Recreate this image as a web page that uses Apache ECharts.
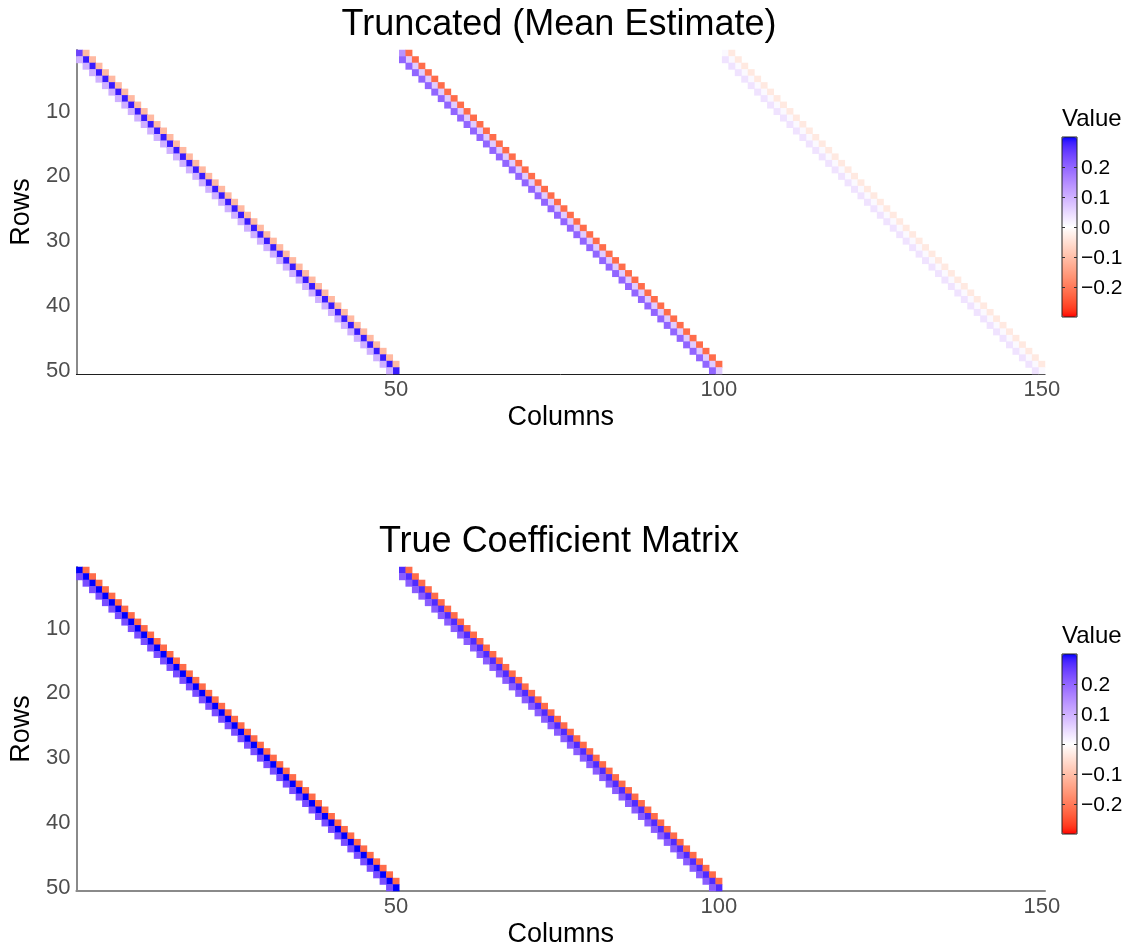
<!DOCTYPE html>
<html>
<head>
<meta charset="utf-8">
<script src="https://cdn.jsdelivr.net/npm/echarts@6/dist/echarts.min.js"></script>
<style>
  html, body { margin: 0; padding: 0; background: #ffffff; }
  #chart { width: 1131px; height: 951px; }
</style>
</head>
<body>
<div id="chart"></div>
<script>
// ---- matrix dimensions and tick labels ----
const nRows = 50;
const nCols = 150;
const rowCats = Array.from({ length: nRows }, (_, i) => String(i + 1));
const colCats = Array.from({ length: nCols }, (_, i) => String(i + 1));
const xTicks = [50, 100, 150];
const yTicks = [10, 20, 30, 40, 50];
const legendTicks = [0.2, 0.1, 0.0, -0.1, -0.2];
const legendTickText = ['0.2', '0.1', '0.0', '\u22120.1', '\u22120.2'];
const valueMin = -0.3;
const valueMax = 0.3;

// ---- band values for each 50-column block (lag 1, lag 2, lag 3) ----
// first column of each block (zero-based)
const blockStart = [0, 50, 100];
// mean estimate: sub-diagonal, diagonal, super-diagonal of each block
const estSub  = [0.10, 0.20, 0.035];
const estDiag = [0.285, 0.065, 0.008];
const estSup  = [-0.11, -0.22, -0.035];
// estimate in row 1 on the block diagonal
const estFirstDiag = [0.245, 0.14, 0.008];
// true coefficients
const trueSub  = [0.23, 0.21, 0];
const trueDiag = [0.30, 0.27, 0];
const trueSup  = [-0.22, -0.22, 0];
const trueFirstDiag = [0.30, 0.27, 0];

// build [col, row, value] triples along the three bands of every block
function bandCells(sub, diag, sup, firstDiag) {
  const cells = [];
  for (let b = 0; b < blockStart.length; b++) {
    for (let r = 0; r < nRows; r++) {
      const c = blockStart[b] + r;
      const d = r === 0 ? firstDiag[b] : diag[b];
      if (d !== 0) cells.push([c, r, d]);
      if (r > 0 && sub[b] !== 0) cells.push([c - 1, r, sub[b]]);
      if (r < nRows - 1 && sup[b] !== 0) cells.push([c + 1, r, sup[b]]);
    }
  }
  return cells;
}
const estCells = bandCells(estSub, estDiag, estSup, estFirstDiag);
const trueCells = bandCells(trueSub, trueDiag, trueSup, trueFirstDiag);

// ---- diverging palette red - white - blue, interpolated in CIE Lab ----
const WHITE = [0.95047, 1.0, 1.08883];
function toLin(c) { c /= 255; return c <= 0.04045 ? c / 12.92 : Math.pow((c + 0.055) / 1.055, 2.4); }
function toSrgb(c) { c = Math.min(1, Math.max(0, c)); return Math.round(255 * (c <= 0.0031308 ? 12.92 * c : 1.055 * Math.pow(c, 1 / 2.4) - 0.055)); }
function hexToLab(hex) {
  const r = toLin(parseInt(hex.slice(1, 3), 16));
  const g = toLin(parseInt(hex.slice(3, 5), 16));
  const b = toLin(parseInt(hex.slice(5, 7), 16));
  const X = (0.4124 * r + 0.3576 * g + 0.1805 * b) / WHITE[0];
  const Y = (0.2126 * r + 0.7152 * g + 0.0722 * b) / WHITE[1];
  const Z = (0.0193 * r + 0.1192 * g + 0.9505 * b) / WHITE[2];
  const f = t => t > 0.008856 ? Math.cbrt(t) : 7.787 * t + 16 / 116;
  const fx = f(X), fy = f(Y), fz = f(Z);
  return [116 * fy - 16, 500 * (fx - fy), 200 * (fy - fz)];
}
function labToHex(L, a, bb) {
  const fy = (L + 16) / 116, fx = fy + a / 500, fz = fy - bb / 200;
  const inv = t => { const t3 = t * t * t; return t3 > 0.008856 ? t3 : (t - 16 / 116) / 7.787; };
  const X = WHITE[0] * inv(fx), Y = WHITE[1] * inv(fy), Z = WHITE[2] * inv(fz);
  const r = 3.2406 * X - 1.5372 * Y - 0.4986 * Z;
  const g = -0.9689 * X + 1.8758 * Y + 0.0415 * Z;
  const b = 0.0557 * X - 0.2040 * Y + 1.0570 * Z;
  return '#' + [r, g, b].map(v => toSrgb(v).toString(16).padStart(2, '0')).join('');
}
function divergingRamp(low, mid, high, n) {
  const lo = hexToLab(low), mi = hexToLab(mid), hi = hexToLab(high);
  const out = [];
  for (let i = 0; i < n; i++) {
    const s = i / (n - 1) * 2 - 1;
    const end = s < 0 ? lo : hi;
    const t = Math.abs(s);
    out.push(labToHex(mi[0] + (end[0] - mi[0]) * t, mi[1] + (end[1] - mi[1]) * t, mi[2] + (end[2] - mi[2]) * t));
  }
  return out;
}
const palette = divergingRamp('#ff0000', '#ffffff', '#0000ff', 41);

// ---- layout ----
const FONT = 'Liberation Sans, Arial, Helvetica, sans-serif';
const plotLeft = 73, plotWidth = 972, plotHeight = 324;
const panelTop = [50, 567];
const titles = ['Truncated (Mean Estimate)', 'True Coefficient Matrix'];
const xLineColor = ['#1f1f1f', '#8a8a8a'];
const legendLeft = 1062, legendWidth = 15, legendHeight = 180;
const legendTop = [137, 654];

function legendY(p, v) {
  return legendTop[p] + (valueMax - v) / (valueMax - valueMin) * legendHeight;
}

const grids = [], xAxes = [], yAxes = [], series = [], visualMaps = [], graphics = [], titleCmp = [];
for (let p = 0; p < 2; p++) {
  grids.push({ left: plotLeft, top: panelTop[p], width: plotWidth, height: plotHeight, containLabel: false });
  xAxes.push({
    type: 'category', gridIndex: p, data: colCats, boundaryGap: true,
    axisLine: { show: true, lineStyle: { color: xLineColor[p], width: p === 0 ? 1 : 2 } },
    axisTick: { show: false },
    splitLine: { show: false },
    axisLabel: {
      interval: (idx, val) => xTicks.includes(Number(val)),
      color: '#4d4d4d', fontSize: 22, fontFamily: FONT, margin: 5
    },
    name: 'Columns', nameLocation: 'middle', nameGap: 30,
    nameTextStyle: { color: '#000', fontSize: 27, fontFamily: FONT, verticalAlign: 'top' }
  });
  yAxes.push({
    type: 'category', gridIndex: p, data: rowCats, inverse: true, boundaryGap: true,
    axisLine: { show: true, lineStyle: { color: '#8a8a8a', width: 2 } },
    axisTick: { show: false },
    splitLine: { show: false },
    axisLabel: {
      interval: (idx, val) => yTicks.includes(Number(val)),
      color: '#4d4d4d', fontSize: 22, fontFamily: FONT, margin: 6
    },
    name: 'Rows', nameLocation: 'middle', nameGap: 38, nameRotate: 90,
    nameTextStyle: { color: '#000', fontSize: 27, fontFamily: FONT }
  });
  series.push({
    type: 'heatmap', xAxisIndex: p, yAxisIndex: p,
    data: p === 0 ? estCells : trueCells,
    itemStyle: { borderWidth: 0 },
    emphasis: { disabled: true },
    progressive: 0
  });
  visualMaps.push({
    type: 'continuous', seriesIndex: p, dimension: 2,
    min: valueMin, max: valueMax,
    inRange: { color: palette },
    calculable: false, realtime: false, hoverLink: false,
    orient: 'vertical', left: legendLeft, top: legendTop[p],
    itemWidth: legendWidth, itemHeight: legendHeight,
    padding: 0, text: null, showLabel: false
  });
  titleCmp.push({
    text: titles[p], left: plotLeft + plotWidth / 2, top: panelTop[p] - 43, textAlign: 'center',
    padding: 0,
    textStyle: { fontSize: 36, fontWeight: 'normal', color: '#000', fontFamily: FONT }
  });
  // legend title, frame, ticks and labels
  graphics.push({
    type: 'text', left: legendLeft, top: legendTop[p] - 30,
    style: { text: 'Value', fontSize: 24, fontFamily: FONT, fill: '#000' }
  });
  graphics.push({
    type: 'rect', z: 100,
    shape: { x: legendLeft, y: legendTop[p], width: legendWidth, height: legendHeight },
    style: { fill: null, stroke: '#222', lineWidth: 1 }
  });
  legendTicks.forEach((v, i) => {
    const y = Math.round(legendY(p, v)) + 0.5;
    graphics.push({ type: 'line', z: 100, shape: { x1: legendLeft, y1: y, x2: legendLeft + 3, y2: y }, style: { stroke: '#333', lineWidth: 1 } });
    graphics.push({ type: 'line', z: 100, shape: { x1: legendLeft + legendWidth - 3, y1: y, x2: legendLeft + legendWidth, y2: y }, style: { stroke: '#333', lineWidth: 1 } });
    graphics.push({
      type: 'text', z: 100,
      style: { text: legendTickText[i], x: legendLeft + legendWidth + 4, y: legendY(p, v) + 1, fontSize: 21, fontFamily: FONT, fill: '#000', verticalAlign: 'middle', align: 'left' }
    });
  });
}

const chart = echarts.init(document.getElementById('chart'), null, { renderer: 'canvas' });
chart.setOption({
  animation: false,
  backgroundColor: '#ffffff',
  title: titleCmp,
  grid: grids,
  xAxis: xAxes,
  yAxis: yAxes,
  visualMap: visualMaps,
  series: series,
  graphic: graphics
});
</script>
</body>
</html>
